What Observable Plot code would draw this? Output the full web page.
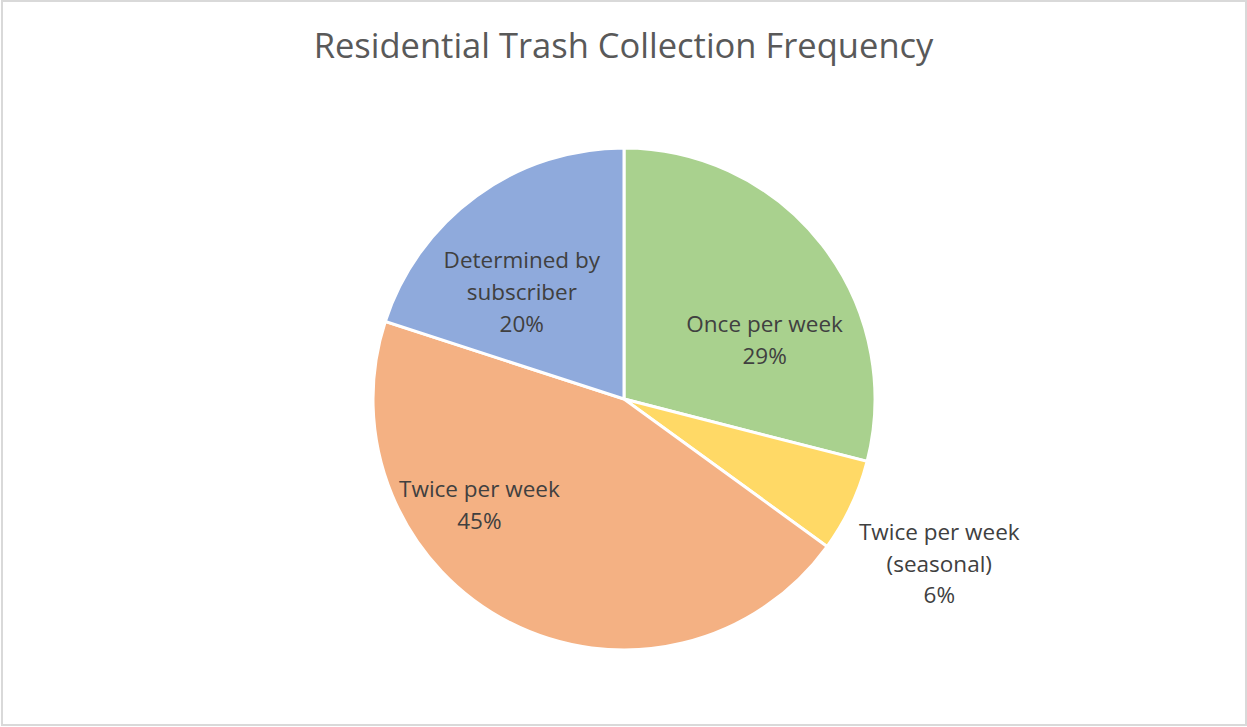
<!DOCTYPE html>
<html>
<head>
<meta charset="utf-8">
<script src="https://cdn.jsdelivr.net/npm/d3@7"></script>
<script src="https://cdn.jsdelivr.net/npm/@observablehq/plot@0.6"></script>
<style>
  html, body { margin: 0; padding: 0; background: #fff; }
  #frame {
    position: absolute; left: 1px; top: 0; width: 1246px; height: 726px;
    box-sizing: border-box; border: 2px solid #d9d9d9; background: #fff;
  }
  #title {
    position: absolute; left: 0; top: 20px; width: 1247px; text-align: center;
    font-family: "Open Sans", sans-serif; font-size: 34.5px; color: #595959;
    line-height: 50px;
  }
  #chart { position: absolute; left: 0; top: 80px; }
</style>
</head>
<body>
<div id="frame"></div>
<div id="title">Residential Trash Collection Frequency</div>
<div id="chart"></div>
<script>
// Data
const categories = ["Once per week", "Twice per week (seasonal)", "Twice per week", "Determined by subscriber"];
const shares = [29, 6, 45, 20];
const labelLines = [
  ["Once per week"],
  ["Twice per week", "(seasonal)"],
  ["Twice per week"],
  ["Determined by", "subscriber"]
];
const colors = ["#A9D18E", "#FFD966", "#F4B183", "#8FAADC"];

// Label layout (Excel best-fit approximation): angle nudge (deg) and radial fraction
const labelNudge = [14, 2, 27.5, -7];
const labelRadius = [0.61, 1.41, 0.71, 0.60];

const total = d3.sum(shares);
const pie = d3.pie().sort(null).value(d => d.value)(
  categories.map((c, i) => ({ name: c, value: shares[i], color: colors[i], i }))
);

const labels = pie.map((p, i) => {
  const mid = (p.startAngle + p.endAngle) / 2 + labelNudge[i] * Math.PI / 180;
  const r = labelRadius[i];
  return {
    x: r * Math.sin(mid),
    y: r * Math.cos(mid),
    text: [...labelLines[i], Math.round(shares[i] / total * 100) + "%"].join("\n")
  };
});

const W = 1247, H = 640;

function pieMark(index, scales) {
  const cx = scales.x(0), cy = scales.y(0);
  const R = (scales.x(1) - scales.x(-1)) / 2;
  const arc = d3.arc().innerRadius(0).outerRadius(R);
  const g = d3.create("svg:g").attr("transform", `translate(${cx},${cy})`);
  g.selectAll("path").data(pie).join("path")
    .attr("d", arc)
    .attr("fill", d => d.data.color)
    .attr("stroke", "#fff")
    .attr("stroke-width", 3)
    .attr("stroke-linejoin", "miter");
  return g.node();
}

const plot = Plot.plot({
  width: W,
  height: H,
  margin: 0,
  style: { background: "transparent", fontFamily: "'Open Sans', sans-serif" },
  x: { domain: [-1, 1], range: [373, 875], axis: null },
  y: { domain: [-1, 1], range: [650 - 80, 148 - 80], axis: null },
  marks: [
    pieMark,
    Plot.text(labels, {
      x: "x", y: "y", text: "text",
      fontSize: 22.5, fill: "#404040", lineHeight: 1.42,
      textAnchor: "middle", lineAnchor: "middle"
    })
  ]
});
document.getElementById("chart").appendChild(plot);
</script>
</body>
</html>
